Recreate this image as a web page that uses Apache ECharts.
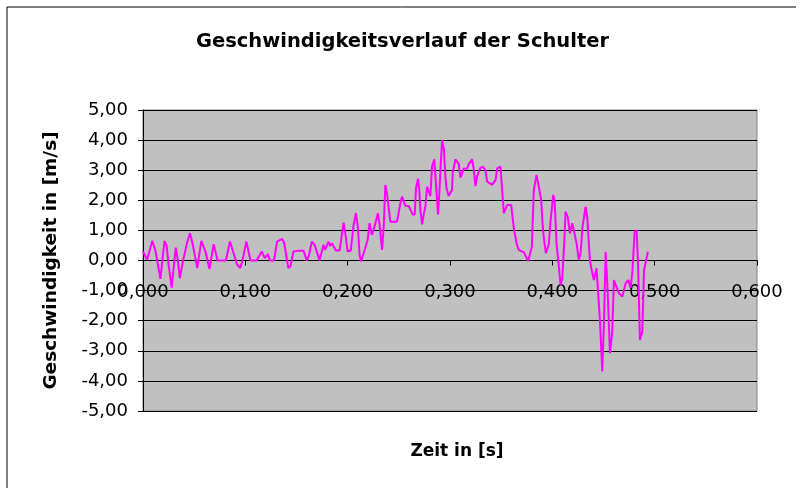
<!DOCTYPE html>
<html style="height: 100%">
<head>
    <meta charset="utf-8">
    <title>Geschwindigkeitsverlauf der Schulter</title>
</head>
<body style="height: 100%; margin: 0; background: #fff;">
<div id="container" style="width: 805px; height: 488px;"></div>
<script src="https://cdn.jsdelivr.net/npm/echarts@6/dist/echarts.min.js"></script>
<script type="text/javascript">

    // Zeit in [s]
    var zeit = [
        0.000, 0.004, 0.009, 0.012, 0.014, 0.017, 0.021, 0.023, 0.025, 0.028,
        0.032, 0.034, 0.036, 0.039, 0.043, 0.046, 0.049, 0.053, 0.057, 0.061,
        0.065, 0.069, 0.073, 0.081, 0.085, 0.088, 0.092, 0.095, 0.097, 0.101,
        0.105, 0.111, 0.116, 0.119, 0.122, 0.124, 0.128, 0.131, 0.136, 0.138,
        0.142, 0.144, 0.147, 0.151, 0.157, 0.160, 0.162, 0.165, 0.168, 0.1725,
        0.1764, 0.178, 0.1813, 0.183, 0.1846, 0.1885, 0.1921, 0.1960, 0.1975, 0.200,
        0.203, 0.2058, 0.2081, 0.210, 0.2117, 0.213, 0.2147, 0.2166, 0.2195, 0.2214,
        0.2236, 0.2252, 0.2296, 0.231, 0.2336, 0.2352, 0.2368, 0.2384, 0.2417, 0.2482,
        0.2515, 0.2531, 0.2564, 0.2597, 0.2614, 0.2635, 0.2655, 0.2668, 0.2688, 0.2700,
        0.2710, 0.2727, 0.2743, 0.2760, 0.2776, 0.2792, 0.2808, 0.2825, 0.2847, 0.2864,
        0.2883, 0.2896, 0.2912, 0.2923, 0.2940, 0.2955, 0.2965, 0.2987, 0.3003, 0.3020,
        0.3027, 0.3053, 0.3070, 0.3086, 0.3102, 0.3134, 0.3167, 0.3184, 0.3216, 0.3232,
        0.3249, 0.3265, 0.3297, 0.3320, 0.3346, 0.3363, 0.3412, 0.3445, 0.3461, 0.3493,
        0.3526, 0.3558, 0.3598, 0.3624, 0.3650, 0.3672, 0.3689, 0.3722, 0.3764, 0.3800,
        0.3819, 0.3845, 0.3868, 0.3891, 0.3905, 0.3917, 0.3937, 0.3966, 0.3982, 0.4009,
        0.4022, 0.4041, 0.4064, 0.4080, 0.4097, 0.4120, 0.4129, 0.4150, 0.4172, 0.4195,
        0.4211, 0.4237, 0.4259, 0.4276, 0.4295, 0.4325, 0.4341, 0.4367, 0.4380, 0.4406,
        0.4432, 0.4445, 0.4465, 0.4488, 0.4505, 0.4521, 0.4537, 0.4550, 0.4563, 0.4585,
        0.4602, 0.4618, 0.4651, 0.4684, 0.4717, 0.4743, 0.4765, 0.4782, 0.4804, 0.4824,
        0.4837, 0.4856, 0.4879, 0.4896, 0.4934
    ];

    // Geschwindigkeit in [m/s]
    var geschwindigkeit = [
        0.30, 0.02, 0.65, 0.35, -0.03, -0.61, 0.65, 0.50, -0.14, -0.90,
        0.43, 0.02, -0.59, -0.03, 0.58, 0.91, 0.47, -0.25, 0.65, 0.30,
        -0.28, 0.54, 0.00, 0.00, 0.63, 0.30, -0.14, -0.25, -0.03, 0.63,
        0.00, 0.00, 0.30, 0.08, 0.21, 0.00, 0.00, 0.63, 0.72, 0.58,
        -0.25, -0.20, 0.30, 0.32, 0.32, 0.00, 0.15, 0.63, 0.50, 0.00,
        0.52, 0.35, 0.63, 0.48, 0.57, 0.33, 0.33, 1.26, 0.95, 0.30,
        0.33, 1.18, 1.57, 1.10, 0.18, -0.03, -0.03, 0.35, 0.68, 1.24,
        0.85, 1.00, 1.57, 1.24, 0.35, 1.10, 2.51, 2.23, 1.29, 1.29,
        1.90, 2.12, 1.81, 1.81, 1.68, 1.53, 1.53, 2.42, 2.72, 2.35,
        1.70, 1.20, 1.53, 1.81, 2.45, 2.30, 2.14, 3.14, 3.36, 2.47,
        1.53, 2.25, 3.36, 4.00, 3.70, 2.80, 2.42, 2.14, 2.14, 2.35,
        2.92, 3.36, 3.30, 3.20, 2.75, 3.05, 3.05, 3.20, 3.36, 3.03,
        2.47, 2.80, 3.08, 3.12, 3.00, 2.62, 2.51, 2.67, 3.06, 3.12,
        1.57, 1.84, 1.84, 1.07, 0.57, 0.35, 0.29, 0.27, -0.02, 0.46,
        2.34, 2.84, 2.45, 2.01, 1.20, 0.74, 0.24, 0.55, 1.30, 2.18,
        2.00, 0.57, -0.20, -0.81, -0.60, 0.85, 1.62, 1.45, 0.90, 1.24,
        1.24, 0.57, 0.02, 0.25, 1.12, 1.79, 1.45, 0.02, -0.25, -0.65,
        -0.26, -0.30, -1.98, -3.69, -1.98, 0.29, -0.75, -1.85, -3.08, -2.40,
        -0.65, -0.70, -1.09, -1.20, -0.75, -0.65, -0.92, -0.37, 0.96, 1.00,
        -0.10, -2.64, -2.36, -0.32, 0.29
    ];

    var xTicks = [0, 0.6, 0.1];
    var yTicks = [-5, 5, 1];

    var punkte = zeit.map(function (t, i) {
        return [t, geschwindigkeit[i]];
    });

    function komma(v, n) {
        return v.toFixed(n).replace('.', ',');
    }

    // plot area: 143..757 x 110..411, the time axis sits on the zero line
    var plotTop = 110, plotBottom = 77, plotHeight = 488 - plotTop - plotBottom;
    var zeroOffset = -plotHeight * (0 - yTicks[0]) / (yTicks[1] - yTicks[0]);

    var dom = document.getElementById("container");
    var myChart = echarts.init(dom, null, {renderer: 'canvas'});
    var option = {
        animation: false,
        backgroundColor: '#ffffff',
        title: {
            text: 'Geschwindigkeitsverlauf der Schulter',
            left: 'center',
            top: 27,
            textStyle: {
                fontFamily: 'DejaVu Sans',
                fontWeight: 'bold',
                fontSize: 19.5,
                color: '#000'
            }
        },
        grid: {
            left: 143,
            right: 48,
            top: plotTop,
            bottom: plotBottom,
            containLabel: false,
            outerBoundsMode: 'none',
            show: true,
            backgroundColor: '#C0C0C0',
            borderColor: '#808080',
            borderWidth: 1
        },
        xAxis: {
            type: 'value',
            min: xTicks[0],
            max: xTicks[1],
            interval: xTicks[2],
            offset: zeroOffset,
            name: 'Zeit in [s]',
            nameLocation: 'middle',
            nameGap: 183,
            nameTextStyle: {
                fontFamily: 'DejaVu Sans',
                fontWeight: 'bold',
                fontSize: 17,
                color: '#000',
                padding: [0, 0, 0, 14]
            },
            axisLine: {onZero: false, lineStyle: {color: '#000', width: 1}},
            axisTick: {show: true, inside: false, length: 5, lineStyle: {color: '#000'}},
            axisLabel: {
                margin: 23,
                fontFamily: 'DejaVu Sans',
                fontSize: 18,
                color: '#000',
                formatter: function (v) { return komma(v, 3); }
            },
            splitLine: {show: false}
        },
        yAxis: {
            type: 'value',
            min: yTicks[0],
            max: yTicks[1],
            interval: yTicks[2],
            name: 'Geschwindigkeit in [m/s]',
            nameLocation: 'middle',
            nameGap: 82,
            nameRotate: 90,
            nameTextStyle: {
                fontFamily: 'DejaVu Sans',
                fontWeight: 'bold',
                fontSize: 18.5,
                color: '#000'
            },
            axisLine: {show: true, onZero: false, lineStyle: {color: '#000', width: 1}},
            axisTick: {show: true, inside: false, length: 5, lineStyle: {color: '#000'}},
            axisLabel: {
                margin: 15,
                fontFamily: 'DejaVu Sans',
                fontSize: 18,
                color: '#000',
                formatter: function (v) { return komma(v, 2); }
            },
            splitLine: {show: true, lineStyle: {color: '#000', width: 1}}
        },
        graphic: [
            {type: 'line', shape: {x1: 7, y1: 7, x2: 796, y2: 7}, style: {stroke: '#000', lineWidth: 1}},
            {type: 'line', shape: {x1: 7, y1: 7, x2: 7, y2: 488}, style: {stroke: '#000', lineWidth: 1}}
        ],
        series: [
            {
                name: 'Geschwindigkeit',
                type: 'line',
                data: punkte,
                showSymbol: false,
                symbol: 'none',
                lineStyle: {color: '#FF00FF', width: 2},
                itemStyle: {color: '#FF00FF'}
            }
        ]
    };
    myChart.setOption(option, true);

</script>
</body>
</html>
